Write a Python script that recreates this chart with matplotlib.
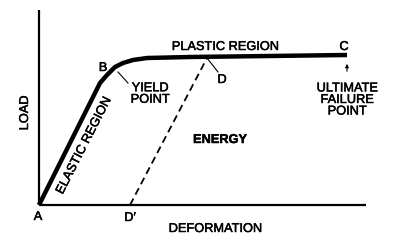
import matplotlib

matplotlib.use("Agg")
import matplotlib.pyplot as plt
import matplotlib.patheffects as pe

# load-deformation curve (A -> B -> C), units = deformation / load
curve_x = [0, 61, 68, 76, 84, 94, 108, 151, 230, 308]
curve_y = [0, 122, 130, 138, 142, 145, 147, 148, 149, 150]

# unloading line D' -> D
unload_x = [91, 168]
unload_y = [0, 147]

# axes extents
axis_x_end = 327
axis_y_end = 195

FONT = "Liberation Sans"


def main() -> None:
    fig = plt.figure(figsize=(3.94, 2.45), dpi=100)
    ax = fig.add_axes([0, 0, 1, 1])
    ax.set_xlim(-39, 355)
    ax.set_ylim(-40, 205)
    ax.axis("off")

    heavy = [pe.withStroke(linewidth=0.35, foreground="black")]
    txt = dict(family=FONT, fontsize=9.2, color="black", path_effects=heavy)

    ax.plot([0, 0], [0, axis_y_end], color="black", lw=1.6, solid_capstyle="butt")
    ax.plot([0, axis_x_end], [0, 0], color="black", lw=1.6, solid_capstyle="butt")
    ax.plot(curve_x, curve_y, color="black", lw=3.2, solid_capstyle="butt",
            solid_joinstyle="round")
    ax.plot(unload_x, unload_y, color="black", lw=1.3, dashes=(4, 2.5))

    ax.text(-1, -12, "A", ha="center", va="center", **txt)
    ax.text(64, 137, "B", ha="center", va="center", **txt)
    ax.text(305, 158, "C", ha="center", va="center", **txt)
    ax.text(183, 125, "D", ha="center", va="center", **txt)
    ax.text(91, -13, "D\u2032", ha="center", va="center", **txt)

    ax.text(186, 158, "PLASTIC REGION", ha="center", va="center", **txt)
    ax.text(111, 111, "YIELD\nPOINT", ha="center", va="center",
            linespacing=0.95, **txt)
    ax.plot([79, 89], [133, 122], color="black", lw=0.8)
    ax.plot([168, 179], [147, 133], color="black", lw=0.8)

    ax.text(308, 105, "ULTIMATE\nFAILURE\nPOINT", ha="center", va="center",
            linespacing=0.95, **txt)
    ax.annotate("", xy=(308, 144), xytext=(308, 131),
                arrowprops=dict(arrowstyle="-|>", color="black", lw=0.8,
                                mutation_scale=5))

    ax.text(181, 65, "ENERGY", ha="center", va="center", fontweight="bold",
            **txt)
    ax.text(45, 59, "ELASTIC REGION", ha="center", va="center", rotation=63,
            **txt)
    ax.text(-14, 92, "LOAD", ha="center", va="center", rotation=90, **txt)
    ax.text(176, -24, "DEFORMATION", ha="center", va="center", **txt)

    fig.savefig("out.png", dpi=100)
    plt.close(fig)


if __name__ == "__main__":
    main()
